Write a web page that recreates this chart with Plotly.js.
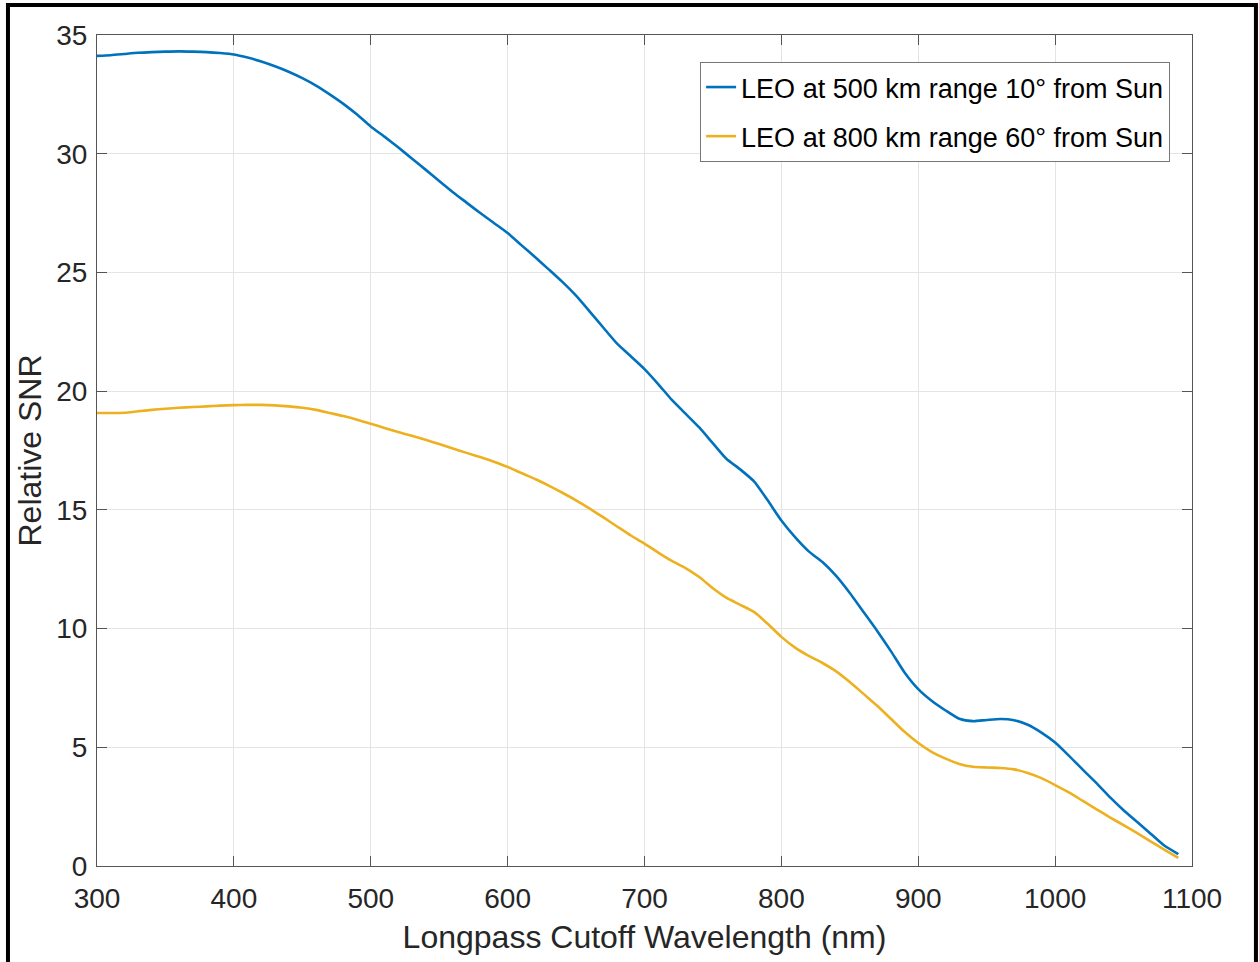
<!DOCTYPE html>
<html>
<head>
<meta charset="utf-8">
<script src="https://cdn.plot.ly/plotly-3.0.1.min.js"></script>
<style>
html,body{margin:0;padding:0;background:#fff;overflow:hidden;}
#chart{width:1259px;height:962px;}
</style>
</head>
<body>
<div id="chart"></div>
<script>
const wavelength = [300,310,320,330,340,350,360,370,380,390,400,410,420,430,440,450,460,470,480,490,
500,510,520,530,540,550,560,570,580,590,600,610,620,630,640,650,660,670,680,690,
700,710,720,730,740,750,760,770,780,790,800,810,820,830,840,850,860,870,880,890,
900,910,920,930,940,950,960,970,980,990,1000,1010,1020,1030,1040,1050,1060,1070,1080,1090];

const snrLeo500 = [34.12,34.15,34.2,34.25,34.28,34.3,34.31,34.3,34.28,34.24,34.18,34.05,33.88,33.68,33.45,33.18,32.87,32.5,32.1,31.65,
31.15,30.72,30.27,29.8,29.33,28.85,28.38,27.94,27.5,27.08,26.66,26.15,25.65,25.13,24.6,24.02,23.35,22.67,22.0,21.47,
20.93,20.3,19.63,19.05,18.47,17.8,17.14,16.7,16.2,15.4,14.55,13.85,13.25,12.8,12.22,11.5,10.7,9.9,9.05,8.15,
7.45,6.95,6.55,6.2,6.1,6.15,6.19,6.14,5.95,5.62,5.2,4.65,4.07,3.5,2.9,2.35,1.85,1.35,0.85,0.5];

const snrLeo800 = [19.08,19.08,19.09,19.15,19.21,19.26,19.3,19.33,19.36,19.39,19.41,19.42,19.42,19.4,19.36,19.3,19.21,19.08,18.95,18.8,
18.63,18.45,18.28,18.12,17.95,17.77,17.58,17.4,17.23,17.03,16.81,16.55,16.3,16.02,15.72,15.4,15.05,14.68,14.3,13.92,
13.58,13.2,12.85,12.55,12.17,11.7,11.29,11.0,10.7,10.2,9.65,9.2,8.85,8.55,8.2,7.75,7.25,6.75,6.2,5.65,
5.18,4.8,4.52,4.3,4.18,4.15,4.13,4.07,3.92,3.7,3.41,3.1,2.75,2.4,2.05,1.72,1.38,1.03,0.68,0.34];

const seriesNames = ["LEO at 500 km range 10° from Sun", "LEO at 800 km range 60° from Sun"];
const xTicks = [300,400,500,600,700,800,900,1000,1100];
const yTicks = [0,5,10,15,20,25,30,35];

const FONT = "Liberation Sans, Arial, Helvetica, sans-serif";
const traces = [
  {x: wavelength, y: snrLeo500, name: seriesNames[0], type: "scatter", mode: "lines",
   line: {color: "#0072BD", width: 2.6, shape: "spline", smoothing: 0.6}, legendgroup: "a"},
  {x: wavelength, y: snrLeo800, name: seriesNames[1], type: "scatter", mode: "lines",
   line: {color: "#EDB120", width: 2.6, shape: "spline", smoothing: 0.6}, legendgroup: "b"}
];

const axisCommon = {
  showline: true, linecolor: "#555", linewidth: 1, mirror: "ticks",
  ticks: "inside", ticklen: 10, tickcolor: "#555", tickwidth: 1,
  showgrid: true, gridcolor: "#e4e4e4", gridwidth: 1, zeroline: false,
  tickfont: {family: FONT, size: 28, color: "#262626"}
};

const layout = {
  width: 1259, height: 962,
  paper_bgcolor: "#fff", plot_bgcolor: "#fff",
  margin: {l: 97, r: 67, t: 35, b: 96},
  showlegend: true,
  xaxis: Object.assign({}, axisCommon, {
    range: [300, 1100], tickvals: xTicks, ticktext: xTicks.map(String),
    ticklabelstandoff: 7,
    title: {text: "Longpass Cutoff Wavelength (nm)", font: {family: FONT, size: 32, color: "#262626"}, standoff: 13}
  }),
  yaxis: Object.assign({}, axisCommon, {
    range: [0, 35], tickvals: yTicks, ticktext: yTicks.map(String),
    ticklabelstandoff: 3,
    title: {text: "Relative SNR", font: {family: FONT, size: 32, color: "#262626"}, standoff: 5}
  }),
  legend: {
    x: 0.98, y: 0.9675, xanchor: "right", yanchor: "top",
    bgcolor: "#fff", bordercolor: "#777", borderwidth: 1,
    font: {family: FONT, size: 27, color: "#000"},
    traceorder: "grouped", tracegroupgap: 11
  },
  shapes: [{
    type: "rect", xref: "paper", yref: "paper",
    x0: -0.0813, x1: 1.0584, y0: -0.2, y1: 1.0361,
    line: {color: "#000", width: 4}, fillcolor: "rgba(0,0,0,0)", layer: "above"
  }]
};

Plotly.newPlot("chart", traces, layout, {displayModeBar: false, staticPlot: true});
</script>
</body>
</html>
